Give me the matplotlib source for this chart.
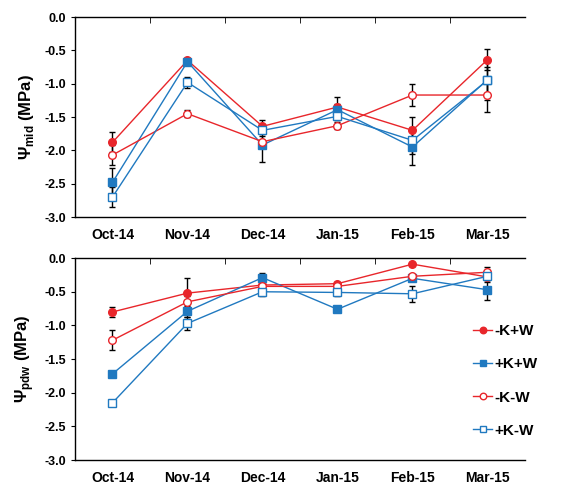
import numpy as np
import matplotlib
matplotlib.use('Agg')
from matplotlib import pyplot as plt

plt.rcParams['font.family'] = ['Liberation Sans', 'DejaVu Sans']
plt.rcParams['font.weight'] = 'bold'
plt.rcParams['mathtext.fontset'] = 'custom'
plt.rcParams['mathtext.rm'] = 'Liberation Sans:bold'
plt.rcParams['mathtext.bf'] = 'Liberation Sans:bold'

months = ['Oct-14', 'Nov-14', 'Dec-14', 'Jan-15', 'Feb-15', 'Mar-15']
series_names = ['-K+W', '+K+W', '-K-W', '+K-W']

# midday water potential (MPa)
mid_kmw_p = [-1.88, -0.65, -1.64, -1.35, -1.70, -0.64]
mid_kpw_p = [-2.48, -0.67, -1.92, -1.39, -1.95, -0.94]
mid_kmw_m = [-2.07, -1.45, -1.87, -1.63, -1.17, -1.17]
mid_kpw_m = [-2.70, -0.98, -1.70, -1.49, -1.85, -0.95]
mid_err_kmw_p = [0.15, 0.04, 0.10, 0.15, 0.20, 0.16]
mid_err_kpw_p = [0.22, 0.05, 0.25, 0.08, 0.27, 0.30]
mid_err_kmw_m = [0.15, 0.05, 0.08, 0.05, 0.16, 0.25]
mid_err_kpw_m = [0.15, 0.08, 0.06, 0.06, 0.20, 0.20]

# predawn water potential (MPa)
pdw_kmw_p = [-0.80, -0.52, -0.40, -0.38, -0.09, -0.28]
pdw_kpw_p = [-1.72, -0.79, -0.29, -0.76, -0.30, -0.47]
pdw_kmw_m = [-1.22, -0.65, -0.42, -0.42, -0.27, -0.21]
pdw_kpw_m = [-2.15, -0.97, -0.50, -0.51, -0.53, -0.27]
pdw_err_kmw_p = [0.08, 0.23, 0.05, 0.03, 0.02, 0.08]
pdw_err_kpw_p = [0.03, 0.08, 0.07, 0.02, 0.03, 0.15]
pdw_err_kmw_m = [0.15, 0.08, 0.06, 0.04, 0.03, 0.08]
pdw_err_kpw_m = [0.04, 0.10, 0.07, 0.05, 0.12, 0.06]

red = '#e8262b'
blue = '#2079c0'
x = np.arange(len(months))

fig = plt.figure(figsize=(5.66, 4.87), dpi=100)
ax1 = fig.add_axes([0.1325, 0.5544, 0.795, 0.4106])
ax2 = fig.add_axes([0.1325, 0.0554, 0.795, 0.4146])


def draw(ax, data, errs, ylabel):
    styles = [(red, 'o', red), (blue, 's', blue), (red, 'o', 'white'), (blue, 's', 'white')]
    for (c, m, fc), y, e, name in zip(styles, data, errs, series_names):
        ax.errorbar(x, y, yerr=e, fmt='none', ecolor='black', elinewidth=1.0, capsize=2, capthick=1.0, zorder=2)
        ax.plot(x, y, color=c, marker=m, markersize=5.5, markerfacecolor=fc, markeredgecolor=c,
                markeredgewidth=1.0, linewidth=1.0, label=name, zorder=3)
    ax.set_xlim(-0.5, 5.5)
    ax.set_ylim(-3.0, 0.0)
    ax.set_yticks(np.arange(-3.0, 0.01, 0.5))
    ax.set_yticklabels(['%.1f' % v for v in np.arange(-3.0, 0.01, 0.5)], fontsize=9, fontweight='bold')
    ax.set_xticks(x)
    ax.set_xticklabels(months, fontsize=10, fontweight='bold')
    ax.tick_params(axis='x', which='major', length=0, pad=8)
    ax.tick_params(axis='y', which='major', length=3, direction='out')
    ax.set_xticks(np.arange(0.5, 5.0, 1.0), minor=True)
    ax.tick_params(axis='x', which='minor', top=True, bottom=False, direction='in', length=4)
    ax.spines['right'].set_visible(False)
    for s in ['top', 'bottom', 'left']:
        ax.spines[s].set_linewidth(1.0)
    ax.set_ylabel(ylabel, fontsize=12, fontweight='bold', labelpad=6)


draw(ax1, [mid_kmw_p, mid_kpw_p, mid_kmw_m, mid_kpw_m],
     [mid_err_kmw_p, mid_err_kpw_p, mid_err_kmw_m, mid_err_kpw_m],
     r'$\Psi_{\mathrm{mid}}$ (MPa)')
draw(ax2, [pdw_kmw_p, pdw_kpw_p, pdw_kmw_m, pdw_kpw_m],
     [pdw_err_kmw_p, pdw_err_kpw_p, pdw_err_kmw_m, pdw_err_kpw_m],
     r'$\Psi_{\mathrm{pdw}}$ (MPa)')

leg = ax2.legend(loc='upper left', bbox_to_anchor=(0.855, 0.74), frameon=False, fontsize=11,
                 handlelength=1.2, handletextpad=0.2, labelspacing=1.25, markerscale=0.85)
for t in leg.get_texts():
    t.set_fontweight('bold')

fig.savefig('out.png', dpi=100)
